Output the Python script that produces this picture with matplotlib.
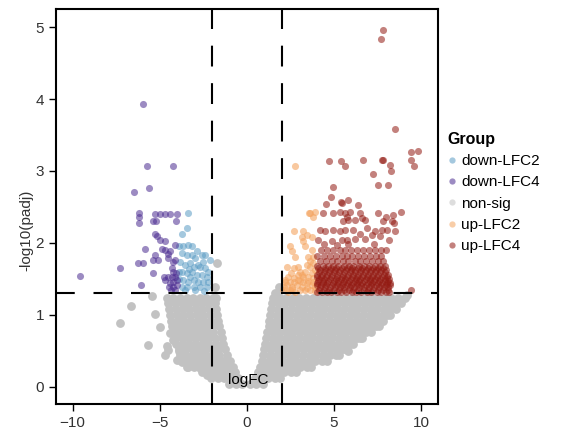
import matplotlib
matplotlib.use('Agg')
import matplotlib.pyplot as plt
from matplotlib.lines import Line2D

plt.rcParams['font.family'] = ['Liberation Sans', 'DejaVu Sans']

groups = ['down-LFC2', 'down-LFC4', 'non-sig', 'up-LFC2', 'up-LFC4']
colors = ['#5A9BC4', '#4B2C91', '#C2C2C2', '#F4A460', '#931A12']

# non-sig cloud: logFC values read per -log10(padj) level
ns_levels = [0.04, 0.12, 0.20, 0.28, 0.36, 0.44, 0.52, 0.60,
             0.68, 0.76, 0.84, 0.92, 1.00, 1.08, 1.16, 1.24]
ns_left = [
    [-1.0, -0.62, -0.25],
    [-2.05, -1.68, -1.3, -0.92, -0.5],
    [-2.6, -2.22, -1.84, -1.46, -1.08, -0.7],
    [-3.4, -3.02, -2.64, -2.26, -1.88, -1.5, -1.12, -0.8],
    [-3.65, -3.27, -2.89, -2.51, -2.13, -1.75, -1.37, -0.98],
    [-3.85, -3.47, -3.09, -2.71, -2.33, -1.95, -1.57, -1.15],
    [-3.92, -3.54, -3.16, -2.78, -2.4, -2.02, -1.64, -1.24],
    [-4.05, -3.67, -3.29, -2.91, -2.53, -2.15, -1.77, -1.34],
    [-4.1, -3.72, -3.34, -2.96, -2.58, -2.2, -1.82, -1.42],
    [-4.2, -3.82, -3.44, -3.06, -2.68, -2.3, -1.92, -1.5],
    [-4.28, -3.9, -3.52, -3.14, -2.76, -2.38, -2.0, -1.6],
    [-4.35, -3.97, -3.59, -3.21, -2.83, -2.45, -2.07, -1.66],
    [-4.4, -4.02, -3.64, -3.26, -2.88, -2.5, -2.12, -1.7],
    [-4.45, -4.07, -3.69, -3.31, -2.93, -2.55, -2.17, -1.75],
    [-4.5, -4.12, -3.74, -3.36, -2.98, -2.6, -2.22, -1.8],
    [-4.6, -4.22, -3.84, -3.46, -3.08, -2.7, -2.32, -1.94, -1.78],
]
ns_right = [
    [0.2, 0.55, 0.9],
    [0.45, 0.83, 1.21, 1.59, 1.9],
    [0.62, 1.0, 1.38, 1.76, 2.14, 2.52, 2.8],
    [0.78, 1.16, 1.54, 1.92, 2.3, 2.68, 3.06, 3.44, 3.7],
    [0.88, 1.26, 1.64, 2.02, 2.4, 2.78, 3.16, 3.54, 3.92, 4.3, 4.6],
    [0.95, 1.33, 1.71, 2.09, 2.47, 2.85, 3.23, 3.61, 3.99, 4.37, 4.75, 5.1, 5.3],
    [1.0, 1.38, 1.76, 2.14, 2.52, 2.9, 3.28, 3.66, 4.04, 4.42, 4.8, 5.18, 5.5, 5.7],
    [1.05, 1.43, 1.81, 2.19, 2.57, 2.95, 3.33, 3.71, 4.09, 4.47, 4.85, 5.23, 5.61, 5.9, 6.1],
    [1.1, 1.48, 1.86, 2.24, 2.62, 3.0, 3.38, 3.76, 4.14, 4.52, 4.9, 5.28, 5.66, 6.04, 6.35, 6.6],
    [1.15, 1.53, 1.91, 2.29, 2.67, 3.05, 3.43, 3.81, 4.19, 4.57, 4.95, 5.33, 5.71, 6.09, 6.47,
     6.85, 7.1],
    [1.25, 1.63, 2.01, 2.39, 2.77, 3.15, 3.53, 3.91, 4.29, 4.67, 5.05, 5.43, 5.81, 6.19, 6.57,
     6.95, 7.25, 7.4],
    [1.3, 1.68, 2.06, 2.44, 2.82, 3.2, 3.58, 3.96, 4.34, 4.72, 5.1, 5.48, 5.86, 6.24, 6.62,
     7.0, 7.38, 7.65, 7.8],
    [1.35, 1.73, 2.11, 2.49, 2.87, 3.25, 3.63, 4.01, 4.39, 4.77, 5.15, 5.53, 5.91, 6.29, 6.67,
     7.05, 7.43, 7.81, 8.05, 8.2],
    [1.4, 1.78, 2.16, 2.54, 2.92, 3.3, 3.68, 4.06, 4.44, 4.82, 5.2, 5.58, 5.96, 6.34, 6.72,
     7.1, 7.48, 7.86, 8.24, 8.55],
    [1.45, 1.83, 2.21, 2.59, 2.97, 3.35, 3.73, 4.11, 4.49, 4.87, 5.25, 5.63, 6.01, 6.39, 6.77,
     7.15, 7.53, 7.91, 8.29, 8.6, 8.85],
    [1.5, 1.88, 2.26, 2.64, 3.02, 3.4, 3.78, 4.16, 4.54, 4.92, 5.3, 5.68, 6.06, 6.44, 6.82,
     7.2, 7.58, 7.96, 8.3, 8.7, 9.1],
]
# scattered non-sig points
ns_extra_x = [-7.27, -6.66, -5.45, -5.26, -4.97, -5.65, -4.59, -4.50, -4.69, -3.92, -4.02,
              -3.73, -3.44, -3.25, -2.68, -2.29, -4.21, -4.40, -3.63, -3.82, -1.72, -1.85,
              1.63, 1.82, 1.91, 9.18, 6.5, 7.6, 5.8]
ns_extra_y = [0.88, 1.12, 1.26, 1.01, 0.83, 0.58, 0.56, 0.51, 0.44, 0.49, 0.37,
              0.35, 0.28, 0.33, 0.26, 0.16, 0.65, 0.74, 0.46, 0.37, 1.72, 1.38,
              1.30, 1.39, 1.34, 1.27, 0.68, 0.85, 0.5]

down2_x = [-3.35, -3.73, -3.44, -3.92, -3.64, -3.35, -3.16, -2.87, -3.73, -3.44, -3.16, -2.97,
           -2.58, -2.49, -3.83, -3.54, -3.25, -3.06, -2.78, -2.39, -2.20, -3.73, -3.44, -3.16,
           -2.87, -2.58, -2.29, -3.64, -3.35, -3.06, -2.78, -2.49, -2.20, -3.25, -3.73, -3.44,
           -3.06, -2.68, -2.29, -2.10, -2.39, -2.68, -3.90, -3.90, -3.55, -2.95, -2.45, -3.30]
down2_y = [2.41, 2.13, 2.20, 1.95, 1.95, 1.97, 1.95, 1.88, 1.86, 1.83, 1.83, 1.79,
           1.83, 1.74, 1.74, 1.69, 1.72, 1.67, 1.69, 1.65, 1.60, 1.60, 1.58, 1.60,
           1.55, 1.55, 1.53, 1.48, 1.46, 1.48, 1.46, 1.46, 1.46, 1.53, 1.39, 1.39,
           1.39, 1.39, 1.39, 1.76, 1.83, 1.67, 1.50, 1.60, 1.34, 1.34, 1.33, 1.64]

down4_x = [-9.56, -7.27, -6.48, -6.21, -6.21, -6.21, -6.25, -5.97, -6.08, -5.93, -5.83, -5.70,
           -5.64, -4.24, -5.26, -4.97, -4.69, -4.40, -4.02, -5.36, -5.22, -4.06, -5.26, -5.16,
           -4.97, -4.69, -4.88, -4.69, -4.40, -4.50, -4.21, -4.30, -5.26, -5.36, -5.07, -5.36,
           -4.50, -4.30, -4.11, -4.78, -4.69, -4.21, -4.02, -4.49, -4.21, -4.02, -4.36, -4.11,
           -4.11, -4.53, -4.11, -4.25, -4.05, -4.40]
down4_y = [1.54, 1.65, 2.71, 2.41, 2.36, 2.28, 1.72, 1.72, 1.42, 3.93, 1.92, 3.07,
           2.76, 3.07, 2.40, 2.40, 2.40, 2.40, 2.40, 2.31, 2.31, 2.30, 2.13, 2.10,
           2.04, 2.02, 1.92, 1.90, 1.88, 1.79, 1.74, 1.65, 1.83, 1.76, 1.76, 1.58,
           1.53, 1.53, 1.53, 1.53, 1.48, 1.46, 1.48, 1.39, 1.39, 1.41, 1.35, 1.35,
           1.97, 1.85, 1.76, 1.60, 1.58, 1.44]

up2_x = [2.77, 3.63, 3.92, 3.82, 3.54, 2.68, 3.25, 3.16, 3.44, 3.25, 3.73, 2.49, 2.58, 2.77,
         3.35, 3.53, 3.73, 3.82, 2.29, 2.68, 2.96, 3.44, 3.63, 3.82, 2.39, 2.68, 2.96, 3.25,
         3.53, 3.73, 3.82, 2.29, 2.58, 2.87, 3.16, 3.44, 3.73, 2.49, 2.77, 3.06, 3.35, 3.63,
         3.92, 2.10, 3.06, 3.35, 3.06, 2.20, 3.92, 3.60,
         2.20, 2.45, 2.70, 2.95, 3.20, 3.50, 3.80, 2.55, 3.15, 3.90, 2.15, 2.35, 2.62, 3.45]
up2_y = [3.07, 2.41, 2.43, 2.36, 2.41, 2.17, 2.17, 2.08, 2.11, 2.02, 2.08, 1.95, 1.88, 1.81,
         1.95, 1.81, 1.90, 1.81, 1.67, 1.65, 1.67, 1.69, 1.67, 1.72, 1.53, 1.51, 1.55, 1.53,
         1.53, 1.58, 1.51, 1.41, 1.39, 1.41, 1.39, 1.44, 1.41, 1.34, 1.32, 1.34, 1.34, 1.34,
         1.39, 1.34, 1.60, 1.60, 1.47, 1.48, 1.62, 1.75,
         1.45, 1.46, 1.45, 1.48, 1.46, 1.47, 1.45, 1.58, 1.55, 1.33, 1.38, 1.32, 1.36, 1.37]

# up-LFC4: sparse upper points
up4_x = [7.84, 7.69, 8.53, 9.81, 9.43, 9.43, 9.60, 4.70, 5.41, 5.66, 6.65, 7.74, 7.84, 8.22,
         8.26, 7.23, 7.51, 8.09, 4.97, 4.84, 4.53, 5.39, 5.83, 5.45, 6.40,
         4.36, 4.97, 5.35, 5.64, 5.93, 6.50, 7.51, 8.85, 8.00, 8.41, 5.74, 6.60, 6.79, 6.21,
         5.83, 5.54, 7.84, 8.32, 8.47,
         4.21, 4.49, 4.97, 5.35, 5.64, 6.12, 6.88, 7.36, 7.74, 8.03, 8.51, 6.50, 7.17, 7.65,
         4.11, 4.40, 4.88, 5.16, 5.45, 5.83, 5.74, 6.21, 6.79, 7.27, 8.13, 9.43]
up4_y = [4.96, 4.83, 3.58, 3.28, 3.27, 3.15, 3.07, 3.14, 3.14, 3.07, 3.15, 3.15, 3.15, 3.08,
         3.00, 2.96, 2.81, 2.81, 2.78, 2.64, 2.54, 2.57, 2.60, 2.56, 2.53,
         2.41, 2.41, 2.43, 2.41, 2.43, 2.41, 2.41, 2.43, 2.36, 2.39, 2.36, 2.34, 2.32, 2.32,
         2.32, 2.30, 2.30, 2.30, 2.27,
         2.18, 2.17, 2.18, 2.16, 2.18, 2.18, 2.20, 2.16, 2.18, 2.18, 2.17, 2.13, 2.11, 2.09,
         2.04, 1.99, 2.02, 1.97, 2.04, 1.99, 2.04, 2.06, 2.05, 1.99, 2.04, 1.34]
# up-LFC4: dense band just above the cut-off
up4_levels = [1.32, 1.35, 1.38, 1.41, 1.44, 1.47, 1.50, 1.53, 1.56, 1.59, 1.62, 1.65,
              1.68, 1.75, 1.82, 1.90]
up4_rows = [
    [4.05, 4.3, 4.62, 4.85, 5.18, 5.42, 5.7, 6.02, 6.28, 6.55, 6.9, 7.12, 7.45, 7.7, 7.98, 8.18],
    [4.12, 4.4, 4.7, 5.0, 5.28, 5.55, 5.85, 6.12, 6.4, 6.7, 6.98, 7.25, 7.55, 7.82, 8.08],
    [4.18, 4.5, 4.75, 5.05, 5.33, 5.6, 5.92, 6.15, 6.45, 6.75, 7.0, 7.3, 7.58, 7.88, 8.12],
    [4.0, 4.28, 4.55, 4.88, 5.15, 5.45, 5.72, 6.0, 6.3, 6.58, 6.85, 7.15, 7.42, 7.72, 8.0, 8.2],
    [4.02, 4.35, 4.6, 4.95, 5.22, 5.5, 5.78, 6.08, 6.35, 6.62, 6.95, 7.2, 7.5, 7.78, 8.05, 8.2],
    [4.1, 4.38, 4.68, 4.98, 5.25, 5.58, 5.88, 6.18, 6.45, 6.72, 7.05, 7.32, 7.6, 7.9, 8.12],
    [4.15, 4.45, 4.8, 5.1, 5.38, 5.65, 5.95, 6.25, 6.5, 6.82, 7.08, 7.38, 7.65, 7.95, 8.15],
    [4.0, 4.25, 4.55, 4.85, 5.15, 5.45, 5.75, 6.02, 6.32, 6.6, 6.9, 7.18, 7.48, 7.75, 8.05],
    [4.05, 4.3, 4.62, 4.9, 5.2, 5.52, 5.8, 6.1, 6.4, 6.68, 6.98, 7.25, 7.55, 7.85, 8.1],
    [4.12, 4.42, 4.7, 5.0, 5.3, 5.6, 5.9, 6.18, 6.48, 6.78, 7.05, 7.35, 7.65, 7.92],
    [4.2, 4.5, 4.78, 5.05, 5.35, 5.68, 5.98, 6.22, 6.55, 6.85, 7.12, 7.42, 7.72, 8.0],
    [4.08, 4.48, 4.85, 5.12, 5.45, 5.75, 6.05, 6.38, 6.62, 6.95, 7.25, 7.55, 7.8],
    [4.0, 4.35, 4.65, 4.95, 5.25, 5.55, 5.85, 6.12, 6.45, 6.72, 7.02, 7.35, 7.62, 7.9],
    [4.2, 4.55, 4.88, 5.18, 5.5, 5.8, 6.2, 6.5, 6.85, 7.18, 7.5, 7.82],
    [4.05, 4.4, 4.75, 5.1, 5.45, 5.72, 6.05, 6.38, 6.7, 7.05, 7.4, 7.7],
    [4.25, 4.6, 4.95, 5.35, 5.65, 6.0, 6.3, 6.65, 7.0, 7.35, 7.7, 8.0],
]

ns_x, ns_y = [], []
for lv, left, right in zip(ns_levels, ns_left, ns_right):
    ns_x += left + right
    ns_y += [lv] * (len(left) + len(right))
ns_x += ns_extra_x
ns_y += ns_extra_y

for lv, row in zip(up4_levels, up4_rows):
    up4_x = up4_x + row
    up4_y = up4_y + [lv] * len(row)

fig = plt.figure(figsize=(5.64, 4.33), dpi=100)
ax = fig.add_axes([0.0993, 0.067, 0.6773, 0.912])

ax.scatter(ns_x, ns_y, s=40, c=colors[2], linewidths=0, zorder=1)
ax.scatter(down2_x, down2_y, s=26, c=colors[0], alpha=0.55, linewidths=0, zorder=2)
ax.scatter(down4_x, down4_y, s=26, c=colors[1], alpha=0.55, linewidths=0, zorder=2)
ax.scatter(up2_x, up2_y, s=26, c=colors[3], alpha=0.6, linewidths=0, zorder=2)
ax.scatter(up4_x, up4_y, s=26, c=colors[4], alpha=0.55, linewidths=0, zorder=2)

for xv in (-2, 2):
    ax.axvline(xv, color='black', lw=1.5, dashes=(10, 8), zorder=3)
ax.axhline(1.301, color='black', lw=1.5, dashes=(9, 9), zorder=3)

ax.set_xlim(-10.95, 10.97)
ax.set_ylim(-0.24, 5.25)
ax.set_xticks([-10, -5, 0, 5, 10])
ax.set_yticks([0, 1, 2, 3, 4, 5])
ax.tick_params(direction='out', length=5, width=1.0, labelsize=11, colors='black',
               labelcolor='#333333')
for sp in ax.spines.values():
    sp.set_linewidth(1.5)

ax.text(0.1, 0.09, 'logFC', ha='center', va='center', fontsize=11, zorder=4)
ax.set_ylabel('-log10(padj)', fontsize=11, color='#333333')
ax.yaxis.set_label_coords(-0.06, 0.44)

handles = [Line2D([], [], ls='', marker='o', ms=4.5, mec='none', mfc=c, alpha=0.55)
           for c in colors]
leg = fig.legend(handles, groups, loc='upper left', bbox_to_anchor=(0.783, 0.71),
                 frameon=False, fontsize=11, title='Group', alignment='left',
                 handlelength=0.6, handletextpad=0.3, labelspacing=0.48,
                 borderaxespad=0)
leg.get_title().set_fontweight('bold')
leg.get_title().set_fontsize(11.5)

fig.savefig('out.png', dpi=100)
